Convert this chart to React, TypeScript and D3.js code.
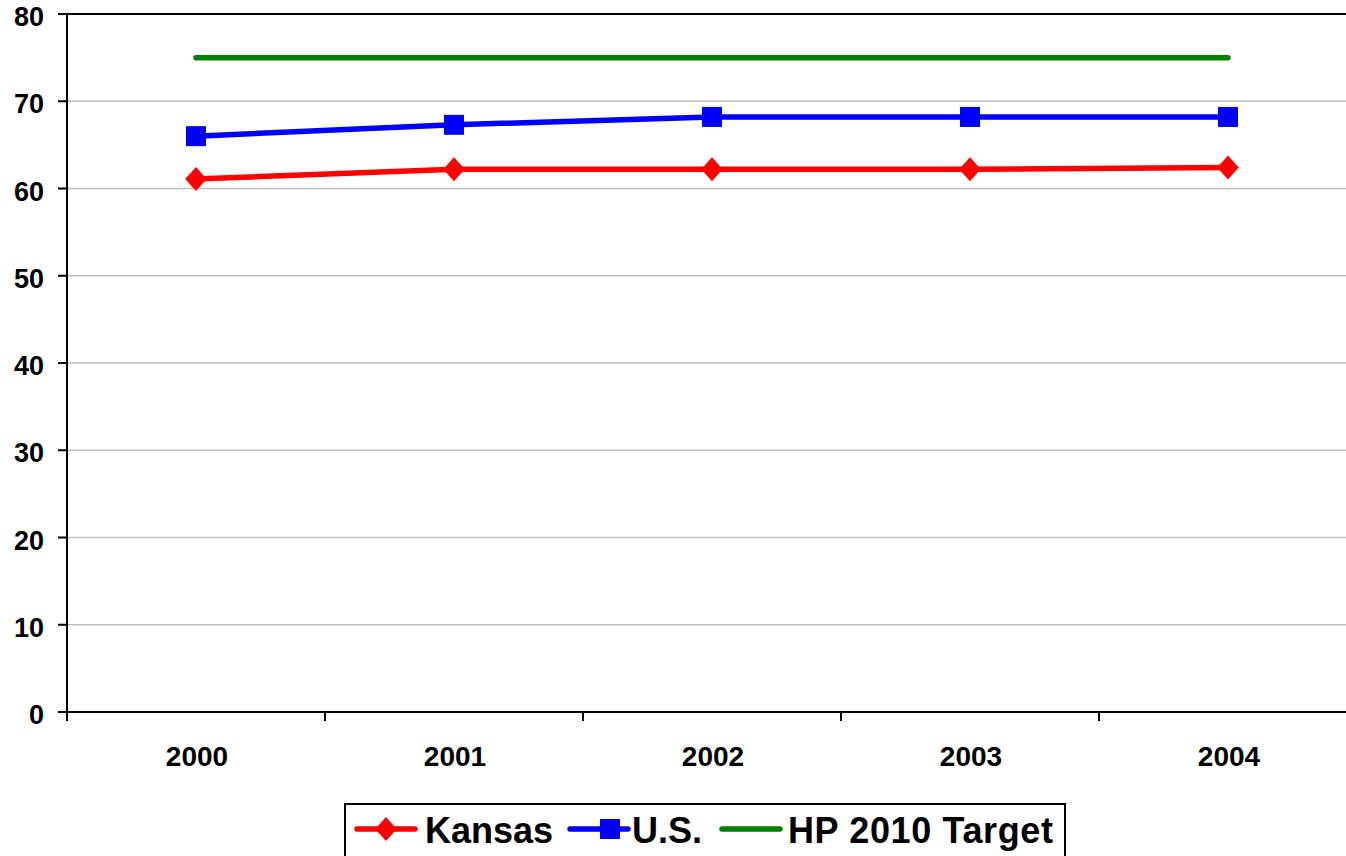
import React from "react";
import * as d3 from "d3";

const years = ["2000", "2001", "2002", "2003", "2004"];
const kansas = [61.1, 62.2, 62.2, 62.2, 62.4];
const us = [66.0, 67.3, 68.2, 68.2, 68.2];
const target = [75, 75, 75, 75, 75];
const yTicks = [0, 10, 20, 30, 40, 50, 60, 70, 80];

const W = 1346;
const H = 856;
const left = 67;
const top = 14;
const bottom = 712;
const bandW = 258;

export default function App() {
  const x = d3
    .scaleBand<string>()
    .domain(years)
    .range([left, left + bandW * years.length]);
  const y = d3.scaleLinear().domain([0, 80]).range([bottom, top]);
  const cx = (i: number) => (x(years[i]) as number) + x.bandwidth() / 2;
  const line = d3
    .line<number>()
    .x((_, i) => cx(i))
    .y((d) => y(d));
  const font = "'Liberation Sans', Arial, sans-serif";
  const diamond = (px: number, py: number, r: number) =>
    `M${px},${py - r}L${px + r * 0.9},${py}L${px},${py + r}L${px - r * 0.9},${py}Z`;

  return (
    <svg
      width={W}
      height={H}
      style={{ position: "absolute", left: 0, top: 0, display: "block" }}
      fontFamily={font}
    >
      <rect x={0} y={0} width={W} height={H} fill="#fff" />
      {yTicks.map((t) =>
        t > 0 && t < 80 ? (
          <line
            key={"g" + t}
            x1={left}
            x2={W}
            y1={y(t)}
            y2={y(t)}
            stroke="#c0c0c0"
            strokeWidth={1.6}
          />
        ) : null
      )}
      <line x1={left} x2={W} y1={y(80)} y2={y(80)} stroke="#000" strokeWidth={2} />
      <line x1={left} x2={left} y1={top} y2={bottom + 1} stroke="#000" strokeWidth={2} />
      <line x1={left} x2={W} y1={bottom} y2={bottom} stroke="#000" strokeWidth={2} />
      {yTicks.map((t) => (
        <g key={"yt" + t}>
          <line x1={58} x2={left} y1={y(t)} y2={y(t)} stroke="#000" strokeWidth={2} />
          <text
            x={44}
            y={y(t) + 12}
            textAnchor="end"
            fontSize={27}
            fontWeight="bold"
            fill="#000"
          >
            {t}
          </text>
        </g>
      ))}
      {years.map((yr, i) => (
        <g key={"xt" + yr}>
          <line
            x1={x(yr) as number}
            x2={x(yr) as number}
            y1={bottom}
            y2={bottom + 9}
            stroke="#000"
            strokeWidth={2}
          />
          <text
            x={cx(i) + 1}
            y={766}
            textAnchor="middle"
            fontSize={28}
            fontWeight="bold"
            fill="#000"
          >
            {yr}
          </text>
        </g>
      ))}
      <path
        d={line(target) || ""}
        fill="none"
        stroke="#008000"
        strokeWidth={5.5}
        strokeLinecap="round"
      />
      <path d={line(us) || ""} fill="none" stroke="#0000ff" strokeWidth={5.5} />
      {us.map((v, i) => (
        <rect
          key={"us" + i}
          x={cx(i) - 10}
          y={y(v) - 10}
          width={20}
          height={20}
          fill="#0000ff"
        />
      ))}
      <path d={line(kansas) || ""} fill="none" stroke="#ff0000" strokeWidth={5.5} />
      {kansas.map((v, i) => (
        <path key={"ks" + i} d={diamond(cx(i), y(v), 12)} fill="#ff0000" />
      ))}
      <rect x={345} y={804} width={720} height={80} fill="#fff" stroke="#000" strokeWidth={2} />
      <line x1={357} x2={415} y1={829} y2={829} stroke="#ff0000" strokeWidth={5.5} strokeLinecap="round" />
      <path d={diamond(386, 829, 12)} fill="#ff0000" />
      <text x={425} y={843} fontSize={36} fontWeight="bold" fill="#000">
        Kansas
      </text>
      <line x1={570} x2={628} y1={829} y2={829} stroke="#0000ff" strokeWidth={5.5} strokeLinecap="round" />
      <rect x={600} y={819} width={20} height={20} fill="#0000ff" />
      <text x={632} y={843} fontSize={36} fontWeight="bold" fill="#000">
        U.S.
      </text>
      <line x1={722} x2={780} y1={829} y2={829} stroke="#008000" strokeWidth={5.5} strokeLinecap="round" />
      <text
        x={788}
        y={843}
        fontSize={36}
        fontWeight="bold"
        fill="#000"
        textLength={265}
        lengthAdjust="spacing"
      >
        HP 2010 Target
      </text>
    </svg>
  );
}
